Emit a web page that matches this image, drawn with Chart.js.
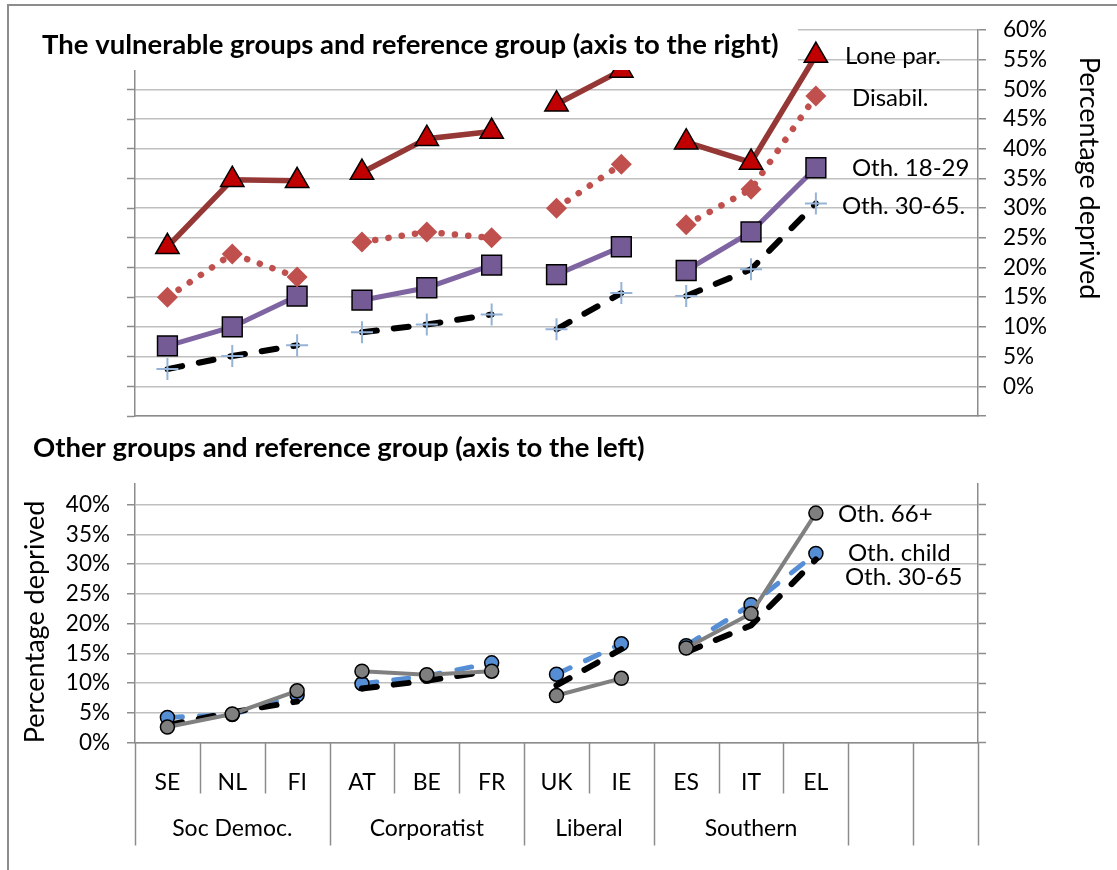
<!DOCTYPE html>
<html>
<head>
<meta charset="utf-8">
<script src="https://cdn.jsdelivr.net/npm/chart.js@4.4.1/dist/chart.umd.min.js"></script>
<style>
  html, body { margin: 0; padding: 0; background: #fff; }
  body { width: 1117px; height: 870px; position: relative; overflow: hidden; }
  #frame { position: absolute; left: 7px; top: 4px; width: 1200px; height: 1000px;
           border: 2px solid #8c8c8c; box-sizing: border-box; }
  canvas { position: absolute; left: 0; }
  #topChart { top: 0; }
  #bottomChart { top: 430px; }
</style>
</head>
<body>
<div id="frame"></div>
<canvas id="topChart" width="1117" height="440"></canvas>
<canvas id="bottomChart" width="1117" height="440"></canvas>
<script>
// Страны и группы режимов (две последние колонки пустые)
const countries = ['SE', 'NL', 'FI', 'AT', 'BE', 'FR', 'UK', 'IE', 'ES', 'IT', 'EL', '', ''];
const regimeNames = ['Soc Democ.', 'Corporatist', 'Liberal', 'Southern', '', ''];
const regimeSizes = [3, 3, 2, 3, 1, 1];

// Верхняя панель: уязвимые группы (правая ось), %
const lonePar = [23.5, 34.8, 34.6, 36.0, 41.7, 42.9, 47.5, 53.2, 41.1, 37.7, 55.7];
const disabil = [15.0, 22.3, 18.4, 24.3, 26.0, 25.0, 30.0, 37.4, 27.2, 33.2, 48.9];
const oth1829 = [6.8, 10.0, 15.2, 14.5, 16.6, 20.4, 18.8, 23.5, 19.5, 26.0, 36.8];
const oth3065 = [2.9, 5.1, 6.9, 9.1, 10.4, 12.1, 9.6, 15.7, 15.2, 19.7, 30.8];

// Нижняя панель: прочие группы (левая ось), %
const oth66 = [2.6, 4.8, 8.7, 12.0, 11.4, 12.0, 7.9, 10.8, 15.9, 21.7, 38.6];
const othChild = [4.2, 4.7, 8.0, 9.9, 11.2, 13.4, 11.5, 16.6, 16.3, 23.2, 31.8];

// Деления осей
const topTicks = [-5, 0, 5, 10, 15, 20, 25, 30, 35, 40, 45, 50, 55, 60];
const bottomTicks = [0, 5, 10, 15, 20, 25, 30, 35, 40];

const FONT = 'Lato';
const GRID = '#bfbfbf';
const AXIS = '#8c8c8c';

// номер группы для каждой страны
const regimeOf = [];
regimeSizes.forEach((n, g) => { for (let i = 0; i < n; i++) regimeOf.push(g); });

// линия рвется между группами
const breakBetweenGroups = ctx =>
    regimeOf[ctx.p0DataIndex] !== regimeOf[ctx.p1DataIndex] ? 'transparent' : undefined;

const useTicks = list => scale => { scale.ticks = list.map(v => ({ value: v })); };
// фиксированная ширина оси, без лишних отступов сверху и снизу
const fixWidth = w => scale => {
    scale.width = w;
    scale.paddingTop = 0;
    scale.paddingBottom = 0;
};
const fixHeight = h => scale => { scale.height = h; };

// Подписи рядов справа от последней точки
const endLabels = {
    id: 'endLabels',
    afterDatasetsDraw(chart) {
        const ctx = chart.ctx;
        chart.data.datasets.forEach((ds, i) => {
            if (!ds.endLabel) return;
            const meta = chart.getDatasetMeta(i);
            const pt = meta.data[meta.data.length - 1];
            ctx.save();
            ctx.font = '24px ' + FONT;
            ctx.fillStyle = '#000';
            ctx.textBaseline = 'middle';
            ctx.fillText(ds.endLabel, pt.x + ds.labelShift[0], pt.y + ds.labelShift[1]);
            ctx.restore();
        });
    }
};

// Заголовки и подпись правой оси верхней панели
const topDecor = {
    id: 'topDecor',
    afterDraw(chart) {
        const ctx = chart.ctx;
        ctx.save();
        ctx.fillStyle = '#fff';
        ctx.fillRect(9, 7, 789, 63);
        ctx.fillStyle = '#000';
        ctx.font = 'bold 27.5px ' + FONT;
        ctx.textBaseline = 'middle';
        ctx.fillText('The vulnerable groups and reference group (axis to the right)', 42, 45);
        ctx.translate(1089, 178);
        ctx.rotate(Math.PI / 2);
        ctx.font = '27px ' + FONT;
        ctx.textAlign = 'center';
        ctx.fillText('Percentage deprived', 0, 0);
        ctx.restore();
    }
};

// Нижняя панель: заголовок, подпись оси, группы стран
const bottomDecor = {
    id: 'bottomDecor',
    afterDraw(chart) {
        const ctx = chart.ctx;
        const xs = chart.scales.x;
        const half = (xs.getPixelForValue(1) - xs.getPixelForValue(0)) / 2;
        const y0 = chart.chartArea.bottom;
        ctx.save();
        ctx.fillStyle = '#000';
        ctx.font = 'bold 27.5px ' + FONT;
        ctx.textBaseline = 'middle';
        ctx.fillText('Other groups and reference group (axis to the left)', 33, 18);

        ctx.save();
        ctx.translate(35, 192);
        ctx.rotate(-Math.PI / 2);
        ctx.font = '27px ' + FONT;
        ctx.textAlign = 'center';
        ctx.fillText('Percentage deprived', 0, 0);
        ctx.restore();

        const edge = i => i < countries.length
            ? xs.getPixelForValue(i) - half
            : xs.getPixelForValue(countries.length - 1) + half;
        const starts = [0];
        regimeSizes.forEach(n => starts.push(starts[starts.length - 1] + n));

        ctx.strokeStyle = AXIS;
        ctx.lineWidth = 1.5;
        for (let i = 0; i <= countries.length; i++) {
            const x = Math.round(edge(i)) + 0.5;
            ctx.beginPath();
            ctx.moveTo(x, y0);
            ctx.lineTo(x, y0 + (starts.includes(i) ? 103 : 51));
            ctx.stroke();
        }
        ctx.font = '23px ' + FONT;
        ctx.textAlign = 'center';
        regimeNames.forEach((name, g) => {
            const cx = (edge(starts[g]) + edge(starts[g + 1])) / 2;
            ctx.fillText(name, cx, y0 + 86);
        });
        ctx.restore();
    }
};

new Chart(document.getElementById('topChart'), {
    type: 'line',
    data: {
        labels: countries,
        datasets: [
            {
                label: 'Lone par.', data: lonePar, endLabel: 'Lone par.', labelShift: [29, 1],
                borderColor: '#953735', borderWidth: 5.5,
                pointStyle: 'triangle', pointRadius: 13.5, pointBackgroundColor: '#c00000',
                pointBorderColor: '#000', pointBorderWidth: 1.5
            },
            {
                label: 'Disabil.', data: disabil, endLabel: 'Disabil.', labelShift: [36, 2],
                borderColor: '#c0504d', borderWidth: 6.5, borderDash: [0.1, 13.3], borderCapStyle: 'round',
                pointStyle: 'rectRot', pointRadius: 10.5, pointBackgroundColor: '#c0504d',
                pointBorderWidth: 0
            },
            {
                label: 'Oth. 18-29', data: oth1829, endLabel: 'Oth. 18-29', labelShift: [36, 0],
                borderColor: '#7f64a2', borderWidth: 5,
                pointStyle: 'rect', pointRadius: 14, pointBackgroundColor: '#745b95',
                pointBorderColor: '#000', pointBorderWidth: 1.5
            },
            {
                label: 'Oth. 30-65.', data: oth3065, endLabel: 'Oth. 30-65.', labelShift: [26, 3],
                borderColor: '#000', borderWidth: 6, borderDash: [15, 17], borderCapStyle: 'round',
                pointStyle: 'cross', pointRadius: 11, pointBorderColor: '#95b3d7',
                pointBorderWidth: 2
            }
        ].map(ds => Object.assign(ds, { yAxisID: 'y', tension: 0, fill: false,
            segment: { borderColor: breakBetweenGroups } }))
    },
    options: {
        responsive: false,
        animation: false,
        layout: { padding: { top: 30, bottom: 0, left: 0, right: 0 } },
        plugins: { legend: { display: false }, tooltip: { enabled: false } },
        scales: {
            x: {
                offset: true,
                grid: { display: false },
                border: { color: AXIS, width: 1.5 },
                ticks: { display: false },
                afterFit: fixHeight(24)
            },
            yL: {
                position: 'left', min: -5, max: 60,
                afterBuildTicks: useTicks(topTicks),
                afterFit: fixWidth(135),
                ticks: { display: false, autoSkip: false },
                grid: { drawOnChartArea: false, tickLength: 8, tickColor: AXIS, tickWidth: 1.5 },
                border: { color: AXIS, width: 1.5 }
            },
            y: {
                position: 'right', min: -5, max: 60,
                afterBuildTicks: useTicks(topTicks),
                afterFit: fixWidth(139),
                ticks: {
                    color: '#000', padding: 17, autoSkip: false, font: { family: FONT, size: 22.5 },
                    callback: v => v < 0 ? '' : v + '%'
                },
                grid: { color: GRID, lineWidth: 1.5, tickLength: 8, tickColor: AXIS, tickWidth: 1.5 },
                border: { color: AXIS, width: 1.5 }
            }
        }
    },
    plugins: [endLabels, topDecor]
});

new Chart(document.getElementById('bottomChart'), {
    type: 'line',
    data: {
        labels: countries,
        datasets: [
            {
                label: 'Oth. 66+', data: oth66, endLabel: 'Oth. 66+', labelShift: [22, 1],
                borderColor: '#808080', borderWidth: 4,
                pointStyle: 'circle', pointRadius: 7, pointBackgroundColor: '#7f7f7f',
                pointBorderColor: '#000', pointBorderWidth: 1.5
            },
            {
                label: 'Oth. 30-65', data: oth3065, endLabel: 'Oth. 30-65', labelShift: [29, 18],
                borderColor: '#000', borderWidth: 6, borderDash: [15, 17], borderCapStyle: 'round',
                pointRadius: 0
            },
            {
                label: 'Oth. child', data: othChild, endLabel: 'Oth. child', labelShift: [32, 0],
                borderColor: '#558ed5', borderWidth: 5, borderDash: [15, 17], borderCapStyle: 'round',
                pointStyle: 'circle', pointRadius: 7, pointBackgroundColor: '#558ed5',
                pointBorderColor: '#000', pointBorderWidth: 1.5
            }
        ].map(ds => Object.assign(ds, { yAxisID: 'yL', tension: 0, fill: false,
            segment: { borderColor: breakBetweenGroups } }))
    },
    options: {
        responsive: false,
        animation: false,
        layout: { padding: { top: 54, bottom: 0, left: 0, right: 0 } },
        plugins: { legend: { display: false }, tooltip: { enabled: false } },
        scales: {
            x: {
                offset: true,
                grid: { display: false, drawTicks: false },
                border: { color: AXIS, width: 1.5 },
                ticks: { color: '#000', padding: 26, autoSkip: false, maxRotation: 0,
                         font: { family: FONT, size: 23 } },
                afterFit: fixHeight(127.5)
            },
            yL: {
                position: 'left', min: 0, max: 43.5,
                afterBuildTicks: useTicks(bottomTicks),
                afterFit: fixWidth(135),
                ticks: {
                    color: '#000', padding: 17, autoSkip: false, font: { family: FONT, size: 22.5 },
                    callback: v => v + '%'
                },
                grid: { color: GRID, lineWidth: 1.5, tickLength: 8, tickColor: AXIS, tickWidth: 1.5 },
                border: { color: AXIS, width: 1.5 }
            },
            yR: {
                position: 'right', min: 0, max: 43.5,
                afterBuildTicks: useTicks(bottomTicks),
                afterFit: fixWidth(139),
                ticks: { display: false, autoSkip: false },
                grid: { drawOnChartArea: false, tickLength: 8, tickColor: AXIS, tickWidth: 1.5 },
                border: { color: AXIS, width: 1.5 }
            }
        }
    },
    plugins: [endLabels, bottomDecor]
});
</script>
</body>
</html>
